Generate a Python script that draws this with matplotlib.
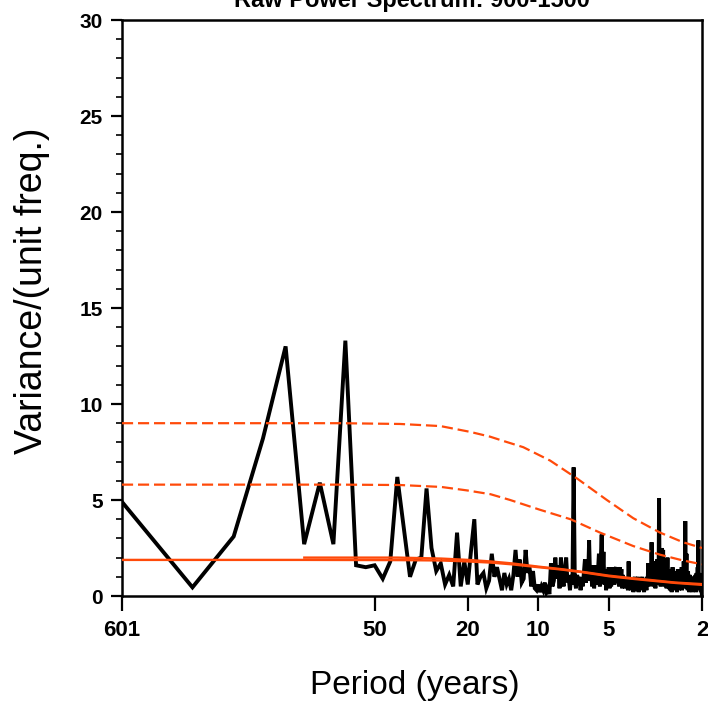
import matplotlib
matplotlib.use("Agg")
import matplotlib.pyplot as plt
import numpy as np

plt.rcParams["font.family"] = ["Liberation Sans", "DejaVu Sans"]

title = "Raw Power Spectrum: 900-1500"
n_years = 601

# raw spectrum, one value per harmonic k = 1..300 (freq = k / n_years)
spectrum = [
    4.9, 0.45, 3.1, 8.2, 13.0, 2.7, 5.9, 2.7, 13.3, 1.6,
    1.5, 1.6, 0.9, 1.8, 6.2, 3.5, 1.0, 1.9, 2.0, 5.6,
    2.5, 1.3, 1.7, 0.6, 1.1, 0.5, 3.3, 0.5, 1.8, 0.6,
    2.4, 4.0, 0.6, 1.0, 1.2, 0.4, 0.8, 2.2, 1.0, 1.5,
    0.9, 0.3, 1.2, 0.6, 0.9, 0.3, 1.1, 2.4, 1.0, 1.9,
    0.7, 0.9, 2.4, 1.2, 1.6, 0.5, 1.3, 0.4, 0.3, 0.6,
    0.2, 0.5, 0.3, 0.7, 0.2, 0.4, 0.1, 1.7, 0.5, 0.8,
    2.0, 0.9, 1.6, 0.4, 2.0, 1.0, 0.5, 1.4, 2.0, 0.7,
    0.9, 0.3, 1.1, 0.6, 6.7, 0.8, 0.4, 1.1, 0.6, 1.0,
    0.3, 0.8, 0.5, 1.2, 1.9, 0.7, 1.5, 0.9, 2.9, 0.8,
    1.2, 0.5, 1.6, 0.4, 1.1, 1.6, 0.6, 1.3, 2.2, 0.5,
    1.8, 3.2, 0.9, 2.3, 0.6, 1.4, 0.3, 1.2, 0.8, 1.5,
    0.4, 1.0, 0.5, 1.5, 0.9, 1.5, 0.6, 1.4, 1.5, 0.7,
    1.5, 1.2, 0.5, 1.5, 0.8, 1.4, 0.4, 1.1, 0.6, 0.9,
    0.4, 0.7, 0.5, 0.8, 0.3, 1.8, 0.5, 0.9, 0.3, 0.8,
    0.5, 0.9, 0.2, 0.7, 1.0, 0.4, 0.8, 0.3, 0.6, 1.0,
    0.2, 0.7, 0.5, 0.9, 0.3, 0.8, 1.0, 0.4, 0.6, 0.2,
    0.9, 0.5, 0.7, 0.3, 1.0, 0.6, 1.7, 0.5, 1.4, 0.8,
    0.6, 1.2, 2.8, 0.9, 1.5, 0.5, 1.8, 0.7, 1.3, 0.4,
    1.6, 0.8, 1.9, 0.6, 1.2, 0.7, 5.1, 0.9, 1.6, 0.5,
    1.2, 2.5, 0.6, 1.0, 2.4, 0.8, 1.4, 0.5, 1.1, 0.7,
    1.3, 0.4, 0.9, 2.0, 0.6, 1.2, 0.4, 1.0, 0.3, 1.4,
    0.6, 1.2, 0.2, 0.9, 1.5, 0.5, 1.1, 0.3, 0.8, 1.3,
    0.4, 1.0, 0.6, 1.2, 0.2, 0.9, 1.4, 0.5, 1.1, 0.3,
    0.8, 1.3, 0.4, 1.0, 0.7, 1.5, 0.3, 0.9, 1.2, 0.5,
    1.8, 0.6, 1.0, 0.4, 3.9, 0.7, 1.2, 2.2, 0.5, 1.0,
    0.3, 1.3, 0.6, 1.1, 0.2, 0.9, 1.1, 0.4, 0.8, 0.3,
    1.0, 0.5, 0.7, 0.2, 0.9, 0.4, 0.6, 1.0, 0.3, 0.8,
    0.5, 1.1, 0.2, 0.7, 1.2, 0.4, 0.9, 1.5, 0.6, 2.9,
    0.5, 1.0, 0.3, 0.8, 0.4, 1.2, 0.2, 0.6, 0.3, 0.1,
]

markov_period = [601, 100, 40, 26, 20, 16, 13, 10, 8, 6.5, 5, 4, 3.3, 2.6, 2]
markov = [1.88, 1.88, 1.87, 1.85, 1.8, 1.74, 1.65, 1.5, 1.38, 1.24, 1.03, 0.9, 0.8, 0.68, 0.58]
markov2_period = [100, 40, 26, 20, 16, 13, 10, 8, 6.5, 5, 4, 3.3, 2.6, 2]
markov2 = [2.0, 2.0, 1.95, 1.88, 1.8, 1.7, 1.53, 1.4, 1.26, 1.06, 0.93, 0.83, 0.7, 0.62]

ci95_period = [601, 70, 52, 39, 26, 20.2, 16, 13.2, 9.9, 7.3, 5.45, 3.93, 3.02, 2.41, 2]
ci95 = [5.8, 5.8, 5.79, 5.78, 5.68, 5.5, 5.3, 5.0, 4.5, 4.0, 3.3, 2.6, 2.15, 1.85, 1.65]
ci99_period = [601, 70, 52, 39, 26.2, 19.6, 16.1, 13.9, 11.6, 8.9, 6.8, 5.1, 3.93, 3.02, 2.41, 2]
ci99 = [9.0, 9.0, 8.98, 8.96, 8.85, 8.55, 8.3, 8.05, 7.75, 7.05, 6.1, 5.0, 4.05, 3.3, 2.8, 2.5]

tick_periods = [601, 50, 20, 10, 5, 2]

red = "#ff4a0a"

fig = plt.figure(figsize=(7.08, 7.01), dpi=100)
ax = fig.add_axes([122 / 708, 1 - 596 / 701, 580 / 708, 576 / 701])

freq = np.arange(1, len(spectrum) + 1) / n_years
ax.plot(freq, spectrum, color="black", lw=2.8, solid_joinstyle="miter", zorder=2)

ax.plot(1 / np.array(markov_period), markov, color=red, lw=1.7, zorder=3)
ax.plot(1 / np.array(markov2_period), markov2, color=red, lw=1.7, zorder=3)
ax.plot(1 / np.array(ci95_period), ci95, color=red, lw=1.6, dashes=(5, 2.2), zorder=3)
ax.plot(1 / np.array(ci99_period), ci99, color=red, lw=1.6, dashes=(5, 2.2), zorder=3)

ax.set_xscale("log")
ax.set_xlim(1 / n_years, 0.5)
ax.set_ylim(0, 30)
ax.set_xticks([1 / p for p in tick_periods])
ax.set_xticklabels([str(p) for p in tick_periods])
ax.xaxis.set_minor_locator(matplotlib.ticker.NullLocator())
ax.set_yticks(range(0, 31, 5))
ax.yaxis.set_minor_locator(matplotlib.ticker.MultipleLocator(1))

ax.tick_params(axis="x", which="major", direction="out", length=11, width=1.6,
               labelsize=16, pad=6)
ax.tick_params(axis="y", which="major", direction="out", length=8, width=1.6,
               labelsize=15, pad=6)
ax.tick_params(axis="y", which="minor", direction="out", length=4, width=1.2)
for lab in ax.get_xticklabels() + ax.get_yticklabels():
    lab.set_fontweight("bold")
for s in ax.spines.values():
    s.set_linewidth(1.8)

ax.set_xlabel("Period (years)", fontsize=24)
ax.set_ylabel("Variance/(unit freq.)", fontsize=27)
ax.xaxis.set_label_coords(0.505, -0.155)
ax.yaxis.set_label_coords(-0.155, 0.53)
ax.xaxis.label.set_va("center")
ax.yaxis.label.set_va("center")

fig.text(412 / 708, 1 - 7 / 701, title, ha="center", va="baseline",
         fontsize=17, fontweight="bold")

fig.savefig("out.png", dpi=100)
